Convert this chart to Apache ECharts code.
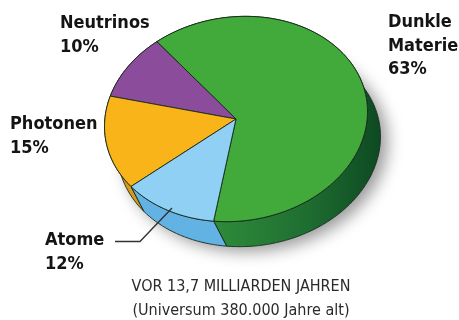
<!DOCTYPE html>
<html>
<head>
<meta charset="utf-8">
<script src="https://cdn.jsdelivr.net/npm/echarts@6/dist/echarts.min.js"></script>
<style>
html,body{margin:0;padding:0;background:#fff;}
#c{width:459px;height:320px;}
</style>
</head>
<body>
<div id="c"></div>
<script>
// ---- data ----
const categories = ['Dunkle Materie', 'Neutrinos', 'Photonen', 'Atome'];
const values = [63, 10, 15, 12];
const captionLines = ['VOR 13,7 MILLIARDEN JAHREN', '(Universum 380.000 Jahre alt)'];

// ---- styles ----
const topColors = ['#41aa3b', '#8b4c9c', '#f8b418', '#8fd0f4'];
const sideColors = [
  {type: 'linear', x: 210, y: 0, x2: 385, y2: 0, global: true,
   colorStops: [{offset: 0, color: '#2f8d3b'}, {offset: 0.55, color: '#1f6e31'}, {offset: 1, color: '#0d4721'}]},
  '#6a3578', '#d99a1a', '#62b3e3'
];
const labelPos = [[388, 11], [60, 12], [10, 113], [45, 229]];

// ---- geometry of the tilted disc ----
const G = {cx: 236, cy: 119, a: 132, b: 102, rot: -8, dx: 13, dy: 25, start: 106};
const total = values.reduce((s, v) => s + v, 0);
function pt(tDeg, off) {
  const t = tDeg * Math.PI / 180, r = G.rot * Math.PI / 180;
  const lx = G.a * Math.cos(t), ly = G.b * Math.sin(t);
  return [G.cx + lx * Math.cos(r) - ly * Math.sin(r) + (off ? G.dx : 0),
          G.cy + lx * Math.sin(r) + ly * Math.cos(r) + (off ? G.dy : 0)];
}
function sliceRange(i) {
  let s = G.start;
  for (let k = 0; k < i; k++) s -= values[k] / total * 360;
  return [s, s - values[i] / total * 360];
}
function arc(t0, t1, off) {
  const n = Math.max(4, Math.ceil(Math.abs(t1 - t0) / 2));
  const pts = [];
  for (let k = 0; k <= n; k++) pts.push(pt(t0 + (t1 - t0) * k / n, off));
  return pts;
}

const seriesData = categories.map((c, i) => ({name: c, value: values[i]}));

const chart = echarts.init(document.getElementById('c'), null, {renderer: 'canvas'});
chart.setOption({
  animation: false,
  series: [
    { // shadow
      type: 'custom', coordinateSystem: 'none', z: 1, silent: true,
      data: [0],
      renderItem: function () {
        return {type: 'polygon', shape: {points: arc(0, 360, true)},
          style: {fill: '#fff', shadowBlur: 16, shadowColor: 'rgba(0,0,0,0.4)', shadowOffsetX: 7, shadowOffsetY: 5}};
      }
    },
    { // sides
      type: 'custom', coordinateSystem: 'none', z: 2, silent: true,
      data: seriesData,
      renderItem: function (params) {
        const i = params.dataIndex;
        const [t0, t1] = sliceRange(i);
        const pts = arc(t0, t1, false).concat(arc(t1, t0, true));
        return {type: 'polygon', shape: {points: pts},
          style: {fill: sideColors[i], stroke: '#16281a', lineWidth: 0.9}};
      }
    },
    { // tops
      type: 'custom', coordinateSystem: 'none', z: 3, silent: true,
      data: seriesData,
      renderItem: function (params) {
        const i = params.dataIndex;
        const [t0, t1] = sliceRange(i);
        const pts = [[G.cx, G.cy]].concat(arc(t0, t1, false));
        return {type: 'polygon', shape: {points: pts},
          style: {fill: topColors[i], stroke: '#16281a', lineWidth: 0.9, lineJoin: 'round'}};
      }
    }
  ],
  graphic: [
    ...categories.map((c, i) => ({
      type: 'text', left: labelPos[i][0], top: labelPos[i][1], z: 10,
      style: {text: c.replace(' ', '\n') + '\n' + values[i] + '%',
        font: 'bold 18px "DejaVu Sans Condensed", "DejaVu Sans"', fill: '#141414', lineHeight: 23.5}
    })),
    {type: 'polyline', z: 10, shape: {points: [[115, 241.5], [140, 241.5], [172, 208]]},
     style: {stroke: '#333', lineWidth: 1.4, fill: null}},
    ...captionLines.map((t, i) => ({
      type: 'text', x: 241, y: 279 + i * 23.5, z: 10,
      style: {text: t, font: '16px "DejaVu Sans Condensed", "DejaVu Sans"', fill: '#2a2a2a', align: 'center', verticalAlign: 'top'}
    }))
  ]
});
</script>
</body>
</html>
